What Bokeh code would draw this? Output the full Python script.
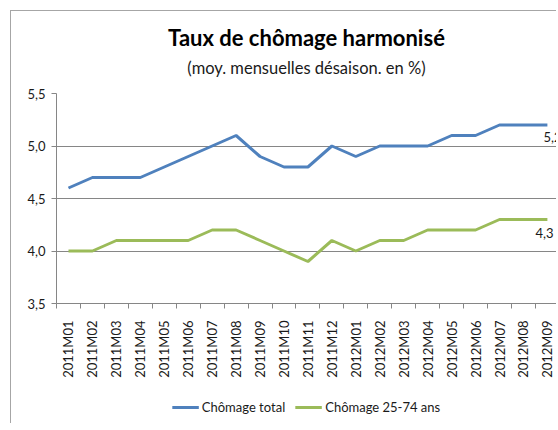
import math
from bokeh.plotting import figure
from bokeh.layouts import column
from bokeh.models import Range1d, FixedTicker, Legend, LegendItem, Title
from bokeh.embed import file_html
from bokeh.resources import INLINE
from bokeh.core.properties import value

months = ["2011M01", "2011M02", "2011M03", "2011M04", "2011M05", "2011M06", "2011M07",
          "2011M08", "2011M09", "2011M10", "2011M11", "2011M12", "2012M01", "2012M02",
          "2012M03", "2012M04", "2012M05", "2012M06", "2012M07", "2012M08", "2012M09"]
chomage_total = [4.6, 4.7, 4.7, 4.7, 4.8, 4.9, 5.0, 5.1, 4.9, 4.8, 4.8, 5.0, 4.9, 5.0,
                 5.0, 5.0, 5.1, 5.1, 5.2, 5.2, 5.2]
chomage_25_74 = [4.0, 4.0, 4.1, 4.1, 4.1, 4.1, 4.2, 4.2, 4.1, 4.0, 3.9, 4.1, 4.0, 4.1,
                 4.1, 4.2, 4.2, 4.2, 4.3, 4.3, 4.3]
y_ticks = [3.5, 4.0, 4.5, 5.0, 5.5]
y_tick_labels = ["3,5", "4,0", "4,5", "5,0", "5,5"]
series_names = ["Chômage total", "Chômage 25-74 ans"]
title_text = "Taux de chômage harmonisé"
subtitle_text = "(moy. mensuelles désaison. en %)"

FONT = "Lato"
BLUE = "#4F81BD"
GREEN = "#9BBB59"
GRID = "#868686"
TXT = "#1a1a1a"

x = list(range(len(months)))

p = figure(frame_width=500, frame_height=210, output_backend="svg", toolbar_location=None,
           x_range=Range1d(-0.5, 20.38), y_range=Range1d(3.5, 5.5),
           min_border_left=56, min_border_right=0, min_border_top=0, min_border_bottom=88,
           title=None)
p.outline_line_color = None
p.background_fill_color = None
p.border_fill_color = None

p.xgrid.visible = False
p.ygrid.ticker = FixedTicker(ticks=y_ticks)
p.ygrid.grid_line_color = GRID
p.ygrid.grid_line_width = 1

ya = p.yaxis[0]
ya.ticker = FixedTicker(ticks=y_ticks)
ya.major_label_overrides = {t: l for t, l in zip(y_ticks, y_tick_labels)}
ya.axis_line_color = GRID
ya.major_tick_line_color = GRID
ya.major_tick_out = 5
ya.major_tick_in = 0
ya.minor_tick_line_color = None
ya.major_label_standoff = 6
ya.major_label_text_font = FONT
ya.major_label_text_font_size = "13px"
ya.major_label_text_color = TXT

xa = p.xaxis[0]
xa.ticker = FixedTicker(ticks=x, minor_ticks=[i - 0.5 for i in range(len(months) + 1)])
xa.major_label_overrides = {i: m for i, m in zip(x, months)}
xa.major_label_orientation = math.pi / 2
xa.axis_line_color = GRID
xa.major_tick_line_color = None
xa.major_tick_out = 0
xa.major_tick_in = 0
xa.minor_tick_line_color = GRID
xa.minor_tick_out = 5
xa.minor_tick_in = 0
xa.major_label_standoff = 12
xa.major_label_text_font = FONT
xa.major_label_text_font_size = "13px"
xa.major_label_text_color = TXT

r1 = p.line(x, chomage_total, line_color=BLUE, line_width=3)
r2 = p.line(x, chomage_25_74, line_color=GREEN, line_width=3)

def fmt(v):
    return f"{v:.1f}".replace(".", ",")

p.text(x=[x[-1]], y=[chomage_total[-1]], text=[fmt(chomage_total[-1])],
       x_offset=-4, y_offset=12, text_align="left", text_baseline="middle",
       text_font=value(FONT), text_font_size="13px", text_color=TXT)
p.text(x=[x[-1]], y=[chomage_25_74[-1]], text=[fmt(chomage_25_74[-1])],
       x_offset=-12, y_offset=13, text_align="left", text_baseline="middle",
       text_font=value(FONT), text_font_size="13px", text_color=TXT)

# titles: first added sits closest to the frame
p.add_layout(Title(text=" ", text_font=FONT, text_font_size="11px", standoff=0), "above")
p.add_layout(Title(text=subtitle_text, align="center", text_font=FONT,
                   text_font_size="16.5px", text_font_style="normal",
                   text_color=TXT, standoff=2), "above")
p.add_layout(Title(text=title_text, align="center", text_font=FONT,
                   text_font_size="22px", text_font_style="bold",
                   text_color="#000000", standoff=8), "above")
p.add_layout(Title(text=" ", text_font=FONT, text_font_size="12px", standoff=0), "above")

# legend strip below the chart (proxy lines use the series data but lie outside its view)
lg = figure(width=556, height=32, output_backend="svg", toolbar_location=None,
            x_range=Range1d(-0.5, 20.38), y_range=Range1d(0, 1), min_border=0, title=None)
lg.axis.visible = False
lg.grid.visible = False
lg.outline_line_color = None
lg.background_fill_color = None
lg.border_fill_color = None
g1 = lg.line(x, chomage_total, line_color=BLUE, line_width=3)
g2 = lg.line(x, chomage_25_74, line_color=GREEN, line_width=3)
legend = Legend(items=[LegendItem(label=series_names[0], renderers=[g1]),
                       LegendItem(label=series_names[1], renderers=[g2])],
                orientation="horizontal", location="center",
                border_line_color=None, background_fill_alpha=0,
                label_text_font=FONT, label_text_font_size="13px",
                label_text_color=TXT,
                glyph_width=27, glyph_height=12, spacing=10, padding=0, margin=0,
                label_standoff=3)
lg.add_layout(legend)

layout = column(p, lg, spacing=0)
layout.styles = {"background": "linear-gradient(#a6a6a6,#a6a6a6) 10px 10px / 1px 100% no-repeat, "
                               "linear-gradient(#a6a6a6,#a6a6a6) 10px 10px / 100% 1px no-repeat, white"}

open("out.html", "w").write(file_html(layout, INLINE))
